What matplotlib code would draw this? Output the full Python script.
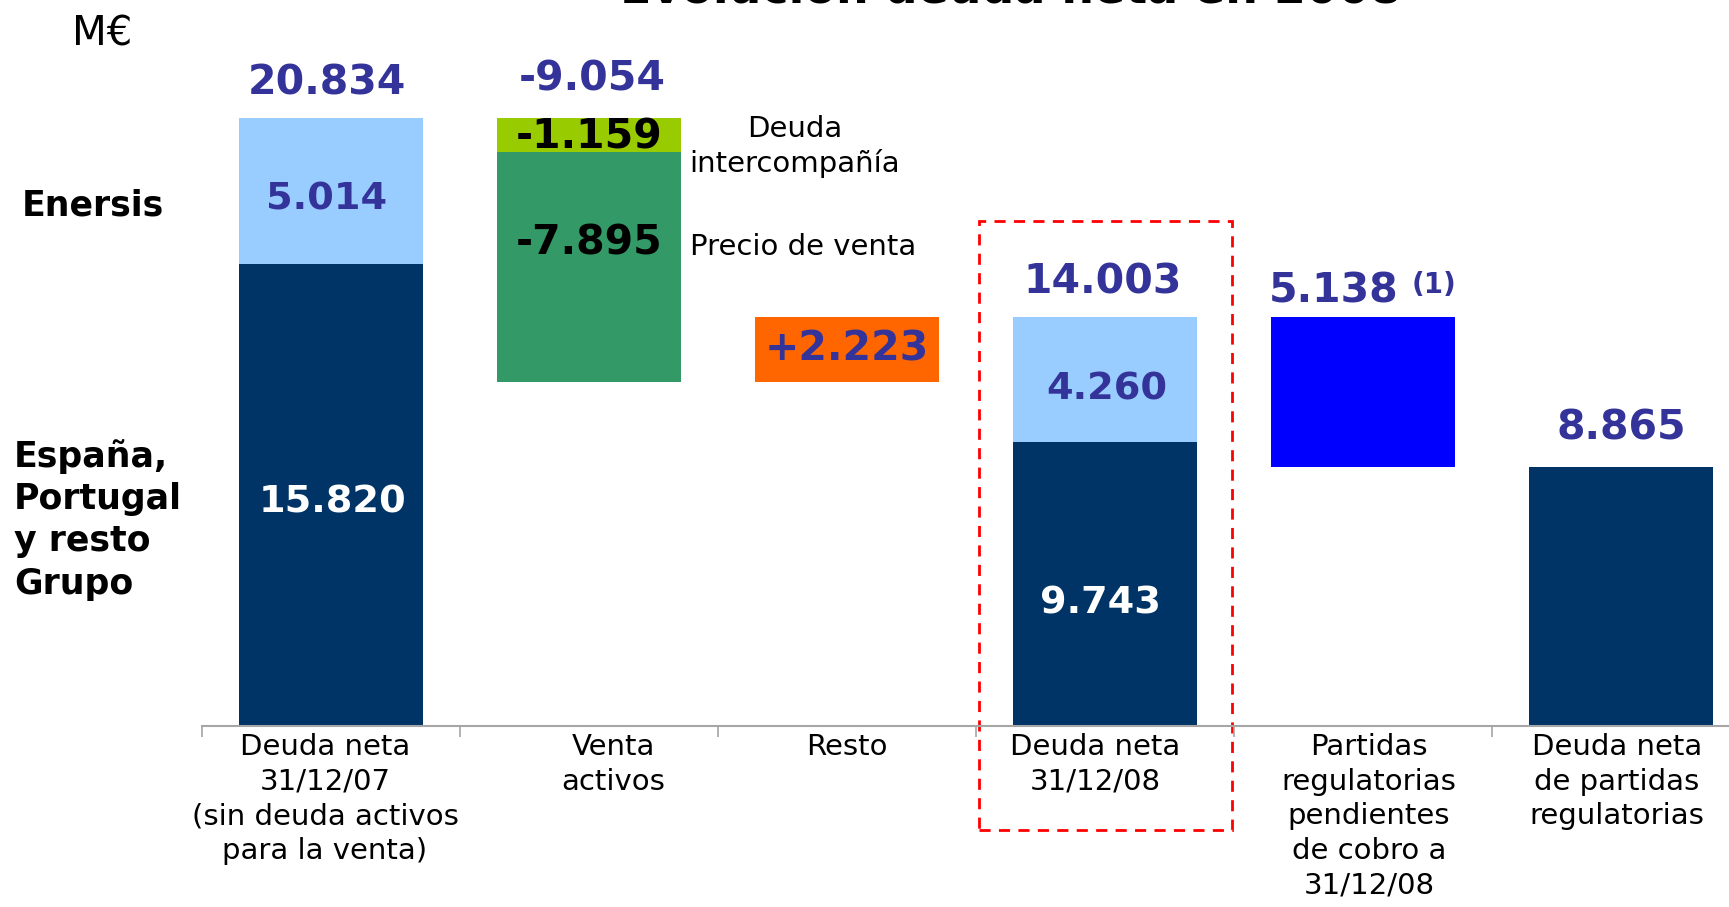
import matplotlib
matplotlib.use("Agg")
import matplotlib.pyplot as plt
from matplotlib.patches import Rectangle
from matplotlib.transforms import ScaledTranslation

plt.rcParams['font.family'] = ['DejaVu Sans']

# ---------------- data ----------------
categories = ["Deuda neta\n31/12/07\n(sin deuda activos\npara la venta)",
              "Venta\nactivos", "Resto", "Deuda neta\n31/12/08",
              "Partidas\nregulatorias\npendientes\nde cobro a\n31/12/08",
              "Deuda neta\nde partidas\nregulatorias"]
start_spain = 15820
start_enersis = 5014
venta_precio = -7895
venta_interco = -1159
resto = 2223
end_spain = 9743
end_enersis = 4260
partidas = -5138
final = 8865

start_label = "20.834"
venta_label = "-9.054"
end_label = "14.003"
partidas_label = "5.138"
final_label = "8.865"

# ---------------- colours ----------------
NAVY = "#003366"
LIGHT = "#99CCFF"
GREEN = "#339966"
LIME = "#99CC00"
ORANGE = "#FF6600"
BLUE = "#0000FF"
LBL = "#333399"

fig = plt.figure(figsize=(17.29, 9.07), dpi=100)
ax = fig.add_axes([202/1729, 181/907, 1548/1729, 726/907])
ax.set_xlim(-0.5, 5.5)
ax.set_ylim(0, 24880)

W = 0.714
start_total = start_spain + start_enersis
after_venta = start_total + venta_precio + venta_interco
after_resto = after_venta + resto
end_total = end_spain + end_enersis

# bars
ax.bar(0, start_spain, W, color=NAVY)
ax.bar(0, start_enersis, W, bottom=start_spain, color=LIGHT)
ax.bar(1, -venta_precio, W, bottom=after_venta, color=GREEN)
ax.bar(1, -venta_interco, W, bottom=after_venta - venta_precio, color=LIME)
ax.bar(2, resto, W, bottom=after_venta, color=ORANGE)
ax.bar(3, end_spain, W, color=NAVY)
ax.bar(3, end_enersis, W, bottom=end_spain, color=LIGHT)
ax.bar(4, -partidas, W, bottom=end_total + partidas, color=BLUE)
ax.bar(5, final, W, color=NAVY)

big = 29.5
mid = 27.5
# top labels
def top(x, y, s, dx=0, dy=25):
    ax.annotate(s, (x, y), xytext=(dx, dy), textcoords="offset points",
                ha="center", va="center", fontsize=big, fontweight="bold", color=LBL)

top(0, start_total, start_label, dx=-3)
top(1, start_total, venta_label, dx=2, dy=28)
top(3, end_total, end_label, dx=-2)
ax.annotate(partidas_label, (4, end_total), xytext=(-21, 19), textcoords="offset points",
            ha="center", va="center", fontsize=big, fontweight="bold", color=LBL)
ax.annotate("(1)", (4, end_total), xytext=(51, 23), textcoords="offset points",
            ha="center", va="center", fontsize=20, fontweight="bold", color=LBL)
top(5, final, final_label, dy=28)

# inner labels
ax.annotate(f"{start_enersis/1000:.3f}", (0, start_spain + start_enersis/2), xytext=(-3, -6),
            textcoords="offset points", ha="center", va="center",
            fontsize=mid, fontweight="bold", color=LBL)
ax.annotate(f"{start_spain/1000:.3f}", (0, start_spain/2), xytext=(1, -5),
            textcoords="offset points", ha="center", va="center",
            fontsize=mid, fontweight="bold", color="white")
ax.annotate(f"{venta_interco/1000:.3f}", (1, after_venta - venta_precio - venta_interco/2),
            xytext=(0, -2), textcoords="offset points", ha="center", va="center",
            fontsize=big, fontweight="bold", color="black")
ax.annotate(f"{venta_precio/1000:.3f}", (1, after_venta - venta_precio/2), xytext=(0, 17),
            textcoords="offset points", ha="center", va="center",
            fontsize=big, fontweight="bold", color="black")
ax.annotate(f"+{resto/1000:.3f}", (2, after_venta + resto/2), xytext=(0, 0),
            textcoords="offset points", ha="center", va="center",
            fontsize=big, fontweight="bold", color=LBL)
ax.annotate(f"{end_enersis/1000:.3f}", (3, end_spain + end_enersis/2), xytext=(1, -7),
            textcoords="offset points", ha="center", va="center",
            fontsize=mid, fontweight="bold", color=LBL)
ax.annotate(f"{end_spain/1000:.3f}", (3, end_spain/2), xytext=(-3, -14),
            textcoords="offset points", ha="center", va="center",
            fontsize=mid, fontweight="bold", color="white")

# side notes for venta
ax.text(1.39, 19870, "Deuda\nintercompañía", ha="left", va="center", multialignment="center",
        fontsize=21, color="black", linespacing=1.25)
ax.text(1.39, 16400, "Precio de venta", ha="left", va="center", fontsize=21, color="black")

# red dashed box
ax.add_patch(Rectangle((2.512, -3564), 0.98, 17323 + 3564, fill=False, edgecolor="#FF0000",
                       linestyle=(0, (4, 3)), linewidth=2, clip_on=False))

# axes styling
for s in ["top", "right", "left"]:
    ax.spines[s].set_visible(False)
ax.spines["bottom"].set_color("#A6A6A6")
ax.spines["bottom"].set_linewidth(1.5)
ax.set_yticks([])
ax.set_xticks(range(6))
labels = ax.set_xticklabels(categories, fontsize=21, linespacing=1.3)
ax.tick_params(axis="x", which="major", length=0, pad=5)
ax.set_xticks([i - 0.5 for i in range(7)], minor=True)
ax.tick_params(axis="x", which="minor", length=8, color="#A6A6A6", width=1.2)
label_shift_px = [-6, 24, 0, -10, 6, -4]
for lbl, dxp in zip(labels, label_shift_px):
    lbl.set_transform(lbl.get_transform() + ScaledTranslation(dxp/100, 0, fig.dpi_scale_trans))

# figure texts
fig.text(1011/1729, 1 - 4/907, "Evolución deuda neta en 2008", ha="center", va="baseline",
         fontsize=33, fontweight="bold")
fig.text(72/1729, 1 - 34/907, "M€", ha="left", va="center", fontsize=29)
fig.text(22/1729, 1 - 205/907, "Enersis", ha="left", va="center", fontsize=25, fontweight="bold")
fig.text(14/1729, 1 - 520/907, "España,\nPortugal\ny resto\nGrupo", ha="left", va="center",
         fontsize=25, fontweight="bold", linespacing=1.3)

fig.savefig("out.png", dpi=100)
